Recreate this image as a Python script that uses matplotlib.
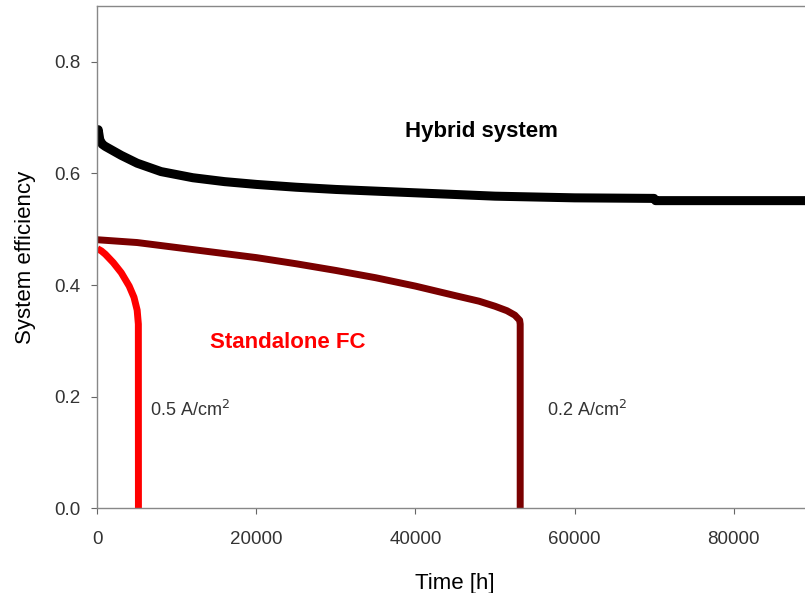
import matplotlib.pyplot as plt

plt.rcParams['font.family'] = ['Liberation Sans', 'DejaVu Sans']

# Hybrid system efficiency over time
hybrid_t = [0, 100, 300, 600, 1000, 2000, 3000, 5000, 8000, 12000, 16000, 20000,
            25000, 30000, 40000, 50000, 60000, 70000, 70200, 80000, 90000]
hybrid_eff = [0.650, 0.678, 0.660, 0.652, 0.648, 0.640, 0.632, 0.618, 0.603, 0.592,
              0.585, 0.580, 0.575, 0.571, 0.565, 0.559, 0.556, 0.555, 0.551, 0.551, 0.551]

# Standalone FC at 0.2 A/cm2
fc02_t = [0, 5000, 10000, 15000, 20000, 25000, 30000, 35000, 40000, 45000,
          48000, 50000, 51500, 52500, 53100, 53170, 53170]
fc02_eff = [0.481, 0.476, 0.467, 0.458, 0.449, 0.438, 0.426, 0.413, 0.398, 0.381,
            0.371, 0.362, 0.354, 0.346, 0.337, 0.330, 0.0]

# Standalone FC at 0.5 A/cm2
fc05_t = [0, 500, 1000, 2000, 3000, 4000, 4600, 5000, 5150, 5160]
fc05_eff = [0.465, 0.461, 0.455, 0.440, 0.422, 0.398, 0.378, 0.355, 0.330, 0.0]

fig = plt.figure(figsize=(8.05, 5.93), dpi=100)
ax = fig.add_axes([0.121, 0.1425, 0.889, 0.848])

ax.plot(hybrid_t, hybrid_eff, color='black', lw=6.5, solid_capstyle='butt')
ax.plot(fc02_t, fc02_eff, color='#7a0000', lw=5, solid_capstyle='butt')
ax.plot(fc05_t, fc05_eff, color='#ff0000', lw=5, solid_capstyle='butt')

ax.text(48300, 0.675, 'Hybrid system', fontsize=16, fontweight='bold',
        ha='center', va='center', color='black')
ax.text(23900, 0.297, 'Standalone FC', fontsize=16, fontweight='bold',
        ha='center', va='center', color='#ff0000')
ax.text(6600, 0.176, '0.5 A/cm$^2$', fontsize=13, ha='left', va='center', color='#333333')
ax.text(56600, 0.176, '0.2 A/cm$^2$', fontsize=13, ha='left', va='center', color='#333333')

ax.set_xlim(0, 90000)
ax.set_ylim(0, 0.9)
ax.set_xticks([0, 20000, 40000, 60000, 80000])
ax.set_xticklabels(['0', '20000', '40000', '60000', '80000'])
ax.set_yticks([0.0, 0.2, 0.4, 0.6, 0.8])
ax.set_yticklabels(['0.0', '0.2', '0.4', '0.6', '0.8'])

for s in ax.spines.values():
    s.set_color('#888888')
    s.set_linewidth(1.0)
ax.tick_params(direction='out', length=4, width=0.8, color='#666666',
               labelsize=13.5, labelcolor='#333333')
ax.tick_params(axis='x', pad=12)
ax.tick_params(axis='y', pad=8)

ax.set_xlabel('Time [h]', fontsize=16, labelpad=18)
ax.set_ylabel('System efficiency', fontsize=16, labelpad=13)

fig.savefig('out.png', dpi=100)
